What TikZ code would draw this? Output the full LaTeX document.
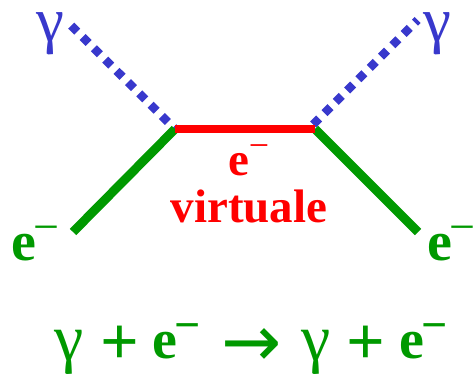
\documentclass[tikz,border=0pt]{standalone}
\usepackage{fontspec}
\setmainfont{Liberation Serif}
\newfontfamily\arrowfont{DejaVu Sans}
\definecolor{PhotonBlue}{HTML}{3838CC}
\definecolor{ElectronGreen}{HTML}{009900}
\definecolor{VirtualRed}{HTML}{FF0000}
\newcommand{\eminus}{\textbf{e}\kern-2pt\raisebox{18pt}{\fontsize{46}{46}\selectfont −}}
\newcommand{\slot}[2]{\makebox[#1pt][l]{#2}}

\begin{document}
\begin{tikzpicture}[x=1pt,y=1pt, every node/.style={inner sep=0pt,outer sep=0pt},
  photon/.style={PhotonBlue, line width=8.5pt, dash pattern=on 8.5pt off 7.5pt},
  electron/.style={ElectronGreen, line width=9pt},
  virtual/.style={VirtualRed, line width=7.5pt},
  gammalabel/.style={PhotonBlue, font=\fontsize{63}{63}\selectfont},
  elabel/.style={ElectronGreen, font=\fontsize{56}{56}\selectfont}]
  \useasboundingbox (0,0) rectangle (476,374);
  \coordinate (vertexleft) at (175,245);
  \coordinate (vertexright) at (315,245);
  \coordinate (photonleft) at (71.2,348.3);
  \coordinate (photonstart) at (313.2,249.5);
  \coordinate (photonright) at (417.7,354);
  \coordinate (electronleft) at (73,142);
  \coordinate (electronright) at (418,142);
  \draw[photon] (photonleft) -- (vertexleft);
  \draw[photon] (photonstart) -- (photonright);
  \draw[electron] (electronleft) -- (vertexleft);
  \draw[electron] (electronright) -- (vertexright);
  \draw[virtual] (vertexleft) -- (vertexright);
  \node[gammalabel, anchor=base] (gammaleft) at (50,332.5) {γ};
  \node[gammalabel, anchor=base] (gammaright) at (437,332.5) {γ};
  \node[elabel, anchor=base west] (eleft) at (11,113) {\eminus};
  \node[elabel, anchor=base west] (eright) at (427,113) {\eminus};
  \node[VirtualRed, font=\fontsize{47}{47}\selectfont\bfseries, anchor=base] (evirtual) at (249,198) {e\kern-1pt\raisebox{18pt}{\fontsize{36}{36}\selectfont\mdseries −}};
  \node[VirtualRed, font=\fontsize{47}{47}\selectfont\bfseries, anchor=base] (virtuale) at (249,151) {virtuale};
  \node[ElectronGreen, font=\fontsize{56}{56}\selectfont\bfseries, anchor=base west] (reaction) at (54,15) {\slot{46}{\fontsize{66}{66}\selectfont\mdseries\raisebox{-2pt}{γ}}\slot{52}{\fontsize{68}{68}\selectfont\raisebox{-6pt}{+}}\slot{69}{\eminus}\slot{80}{\arrowfont\fontsize{72}{72}\selectfont\mdseries\raisebox{-8pt}{→}}\slot{45}{\fontsize{66}{66}\selectfont\mdseries\raisebox{-2pt}{γ}}\slot{53}{\fontsize{68}{68}\selectfont\raisebox{-6pt}{+}}\eminus};
\end{tikzpicture}
\end{document}
